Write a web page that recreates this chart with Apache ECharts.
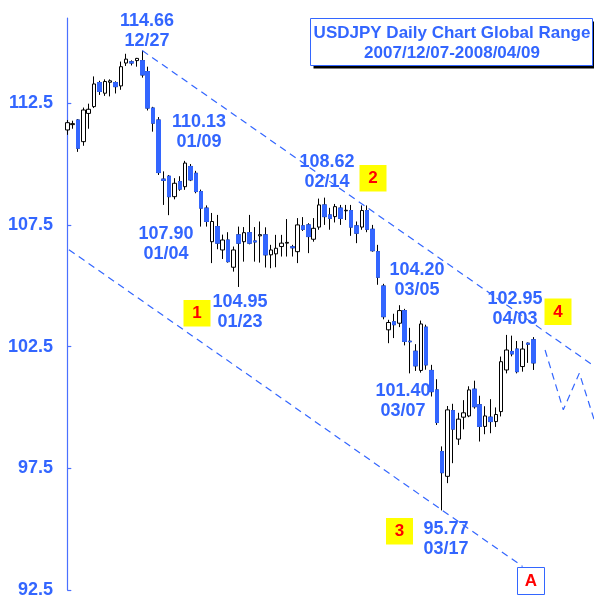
<!DOCTYPE html>
<html>
<head>
<meta charset="utf-8">
<title>USDJPY Daily Chart Global Range</title>
<script src="https://cdn.jsdelivr.net/npm/echarts@6/dist/echarts.min.js"></script>
<style>
html, body { margin: 0; padding: 0; background: #fff; }
#chart { width: 594px; height: 598px; }
</style>
</head>
<body>
<div id="chart"></div>
<script>
// trading days 2007/12/07 - 2008/04/09
var dates = [
  '12/07','12/10','12/11','12/12','12/13','12/14','12/17','12/18','12/19','12/20','12/21','12/24','12/25','12/26','12/27','12/28','12/31',
  '01/02','01/03','01/04','01/07','01/08','01/09','01/10','01/11','01/14','01/15','01/16','01/17','01/18','01/21','01/22','01/23','01/24','01/25','01/28','01/29','01/30','01/31',
  '02/01','02/04','02/05','02/06','02/07','02/08','02/11','02/12','02/13','02/14','02/15','02/18','02/19','02/20','02/21','02/22','02/25','02/26','02/27','02/28','02/29',
  '03/03','03/04','03/05','03/06','03/07','03/10','03/11','03/12','03/13','03/14','03/17','03/18','03/19','03/20','03/21','03/24','03/25','03/26','03/27','03/28','03/31',
  '04/01','04/02','04/03','04/04','04/07','04/08','04/09'
];
// empty slots to the right (projection area)
var futureDates = ['04/10','04/11','04/14','04/15','04/16','04/17','04/18','04/21','04/22','04/23','04/24'];

var opens = [
  111.40,111.62,111.81,110.92,112.08,112.36,113.35,112.91,113.36,113.35,113.21,114.15,114.20,114.25,114.25,113.80,112.30,
  111.81,109.38,109.50,108.66,109.28,109.07,109.90,109.62,108.87,108.19,106.81,107.43,106.47,106.88,105.76,107.09,106.81,107.18,106.84,107.05,107.09,106.27,
  106.31,106.61,106.75,106.60,106.40,107.46,107.50,106.91,107.41,108.32,107.91,107.84,108.19,108.08,108.09,107.46,107.41,108.09,107.32,106.40,104.99,
  103.19,103.52,103.46,103.98,102.72,102.31,101.52,103.30,101.52,100.72,98.19,97.17,99.87,98.70,99.60,99.65,100.75,100.11,99.22,99.60,99.42,
  99.83,101.54,102.30,102.40,101.68,102.64,102.78
];
var closes = [
  111.70,111.66,110.65,112.22,112.25,113.29,112.98,113.39,113.42,113.18,114.00,114.31,114.15,114.34,113.66,112.30,111.68,
  109.65,109.33,108.66,109.21,108.97,110.04,109.35,108.87,108.19,107.64,107.64,106.75,106.88,105.99,106.47,106.75,107.18,106.75,106.80,107.10,106.27,106.47,
  106.54,106.75,106.78,106.56,107.50,107.32,107.02,107.36,108.32,107.84,107.77,108.25,107.77,108.10,107.41,107.16,108.09,107.32,106.44,105.35,103.73,
  103.49,103.40,103.98,102.71,102.70,101.71,103.43,101.75,100.65,99.38,97.32,99.90,99.11,99.52,99.78,100.72,100.03,99.22,99.65,99.42,99.71,
  101.88,102.36,102.20,101.47,102.40,102.60,101.83
];
var lows = [
  111.20,111.45,110.50,110.75,111.45,112.30,112.84,112.80,112.78,112.90,113.05,114.03,114.05,114.00,113.55,112.20,111.33,
  109.55,108.32,107.90,108.55,108.90,108.94,109.30,108.80,107.43,107.43,105.93,106.50,106.10,105.95,105.58,104.95,105.99,106.70,105.99,105.95,105.75,105.72,
  105.76,106.20,106.20,106.20,105.93,107.25,106.34,106.81,107.30,107.50,107.30,107.60,107.50,107.70,107.05,106.75,107.30,107.20,106.40,105.04,103.62,
  102.64,102.85,103.30,102.55,101.40,101.50,101.43,101.55,100.45,99.28,95.77,96.89,97.71,98.46,99.10,99.60,99.95,98.60,98.90,98.94,99.20,
  99.63,101.40,102.10,101.40,101.47,101.83,101.54
];
var highs = [
  111.81,111.78,111.85,112.32,112.48,113.60,113.42,113.48,113.48,113.40,114.21,114.53,114.26,114.36,114.66,114.00,112.35,
  111.93,109.70,109.55,109.42,109.50,110.13,110.00,109.72,108.95,108.30,107.99,107.91,107.10,107.20,106.61,107.43,107.41,107.91,107.41,107.64,107.40,106.68,
  107.09,107.09,107.74,106.68,107.78,107.82,107.57,107.78,108.58,108.62,108.20,108.36,108.32,108.32,108.32,107.64,108.30,108.30,107.50,106.68,105.08,
  103.60,103.85,104.20,104.05,103.27,102.60,103.57,103.40,101.75,101.16,98.40,100.06,100.15,99.78,100.30,100.87,101.10,100.48,100.05,100.34,100.00,
  102.09,102.98,102.95,102.73,102.73,102.67,102.89
];

var yTicks = [92.5, 97.5, 102.5, 107.5, 112.5];

// trend lines in [bar index, price]
var upperChannel = [[14, 114.66], [98.5, 101.68]];
var lowerChannel = [[0.3, 106.48], [85, 93.47]];
var projection = [[89.2, 102.36], [92.6, 99.90], [95.6, 101.41], [98.5, 99.40]];

var titleLines = ['USDJPY Daily Chart Global Range', '2007/12/07-2008/04/09'];
var noteTexts = ['114.66\n12/27', '110.13\n01/09', '107.90\n01/04', '104.95\n01/23', '108.62\n02/14',
                 '104.20\n03/05', '102.95\n04/03', '101.40\n03/07', '95.77\n03/17'];
var waveLabels = ['1', '2', '3', '4'];
var targetLabel = 'A';

// ---- layout (pixels) ----
var BLUE = '#3366ff';
var FONT = 'Liberation Sans, Arial, sans-serif';
var notePos = [[147, 31], [199, 132], [166, 244], [240, 312], [327, 172],
               [417, 280], [515, 309], [403, 401], [446, 539]];
var wavePos = [[183.5, 300], [359.5, 165], [386, 518], [544.5, 298.5]];

var chart = echarts.init(document.getElementById('chart'));

var candleData = dates.map(function (d, i) {
  return [opens[i], closes[i], lows[i], highs[i]];
});
// blue bodies again on top, so falling candles keep black wicks but no black outline
var downBodies = dates.map(function (d, i) {
  return closes[i] < opens[i] ? [opens[i], closes[i], closes[i], opens[i]] : '-';
});

var graphics = [];
graphics.push({ type: 'rect', z: 10, shape: { x: 313.5, y: 21.5, width: 282, height: 47 }, style: { fill: '#000' } });
graphics.push({ type: 'rect', z: 11, shape: { x: 310.5, y: 18.5, width: 282, height: 47 },
  style: { fill: '#fff', stroke: BLUE, lineWidth: 1 } });
graphics.push({ type: 'text', z: 12, x: 452, y: 43,
  style: { text: titleLines.join('\n'), fill: BLUE, font: 'bold 17px ' + FONT, align: 'center', verticalAlign: 'middle', lineHeight: 20 } });

noteTexts.forEach(function (t, i) {
  graphics.push({ type: 'text', z: 12, x: notePos[i][0], y: notePos[i][1],
    style: { text: t, fill: BLUE, font: 'bold 18px ' + FONT, align: 'center', verticalAlign: 'middle', lineHeight: 19.5 } });
});
waveLabels.forEach(function (t, i) {
  var p = wavePos[i];
  graphics.push({ type: 'rect', z: 11, shape: { x: p[0], y: p[1], width: 27, height: 26.5 }, style: { fill: '#ffff00' } });
  graphics.push({ type: 'text', z: 12, x: p[0] + 13.5, y: p[1] + 13.5,
    style: { text: t, fill: '#ff0000', font: 'bold 17px ' + FONT, align: 'center', verticalAlign: 'middle' } });
});
graphics.push({ type: 'rect', z: 11, shape: { x: 517.5, y: 567.5, width: 27, height: 27 },
  style: { fill: '#fff', stroke: BLUE, lineWidth: 1 } });
graphics.push({ type: 'text', z: 12, x: 531, y: 581.5,
  style: { text: targetLabel, fill: '#ff0000', font: 'bold 17px ' + FONT, align: 'center', verticalAlign: 'middle' } });

var dashed = { type: [7, 5], color: BLUE, width: 1.2 };

var option = {
  animation: false,
  backgroundColor: '#fff',
  grid: { left: 64.62, top: 18, width: 530.27, height: 572, containLabel: false, outerBoundsMode: 'none' },
  xAxis: [
    { type: 'category', data: dates.concat(futureDates), boundaryGap: true, show: false },
    { type: 'value', min: -0.5, max: 98.5, show: false }
  ],
  yAxis: {
    type: 'value', min: 92.5, max: 116, offset: -1.4,
    axisLine: { show: true, lineStyle: { color: '#4a70ff', width: 1.2 } },
    axisTick: { show: true, inside: true, length: 4, customValues: yTicks, lineStyle: { color: '#4a70ff', width: 1.2 } },
    axisLabel: { customValues: yTicks, color: BLUE, fontSize: 18, fontWeight: 'bold', fontFamily: FONT, margin: 13 },
    splitLine: { show: false }
  },
  series: [
    {
      type: 'candlestick', data: candleData, barWidth: 4,
      itemStyle: { color: '#fff', color0: BLUE, borderColor: '#000', borderColor0: '#000', borderWidth: 1 }
    },
    {
      type: 'candlestick', data: downBodies, barWidth: 4,
      itemStyle: { color: BLUE, color0: BLUE, borderColor: BLUE, borderColor0: BLUE, borderWidth: 1 }
    },
    { type: 'line', xAxisIndex: 1, data: upperChannel, symbol: 'none', lineStyle: dashed, silent: true },
    { type: 'line', xAxisIndex: 1, data: lowerChannel, symbol: 'none', lineStyle: dashed, silent: true },
    { type: 'line', xAxisIndex: 1, data: projection, symbol: 'none', lineStyle: dashed, silent: true }
  ],
  graphic: graphics
};
chart.setOption(option);
</script>
</body>
</html>
